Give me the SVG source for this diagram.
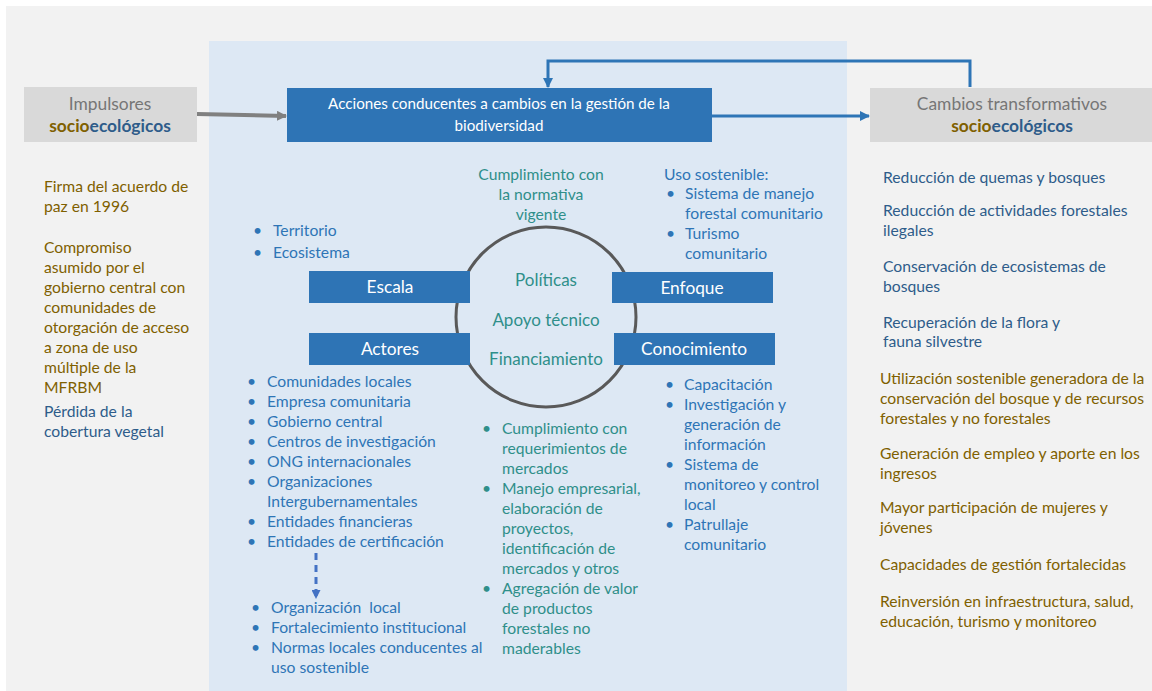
<svg xmlns="http://www.w3.org/2000/svg" width="1152" height="691" viewBox="0 0 1152 691">
<style>
text{font-family:Lato,"Open Sans","Liberation Sans",sans-serif;font-size:15.7px}
.w{fill:#fff;font-size:15.2px}
.wb{fill:#fff;font-size:17.3px}
.g{fill:#7f6000}
.b{fill:#2e5c8a}
.bl{fill:#2e75b6}
.t{fill:#2f8f8a}
.ct{fill:#2f8f8a;font-size:17px}
.h{fill:#767676;font-size:17.4px}
.sb{font-weight:bold;font-size:17.4px}
.box{fill:#2e74b5}
.gbox{fill:#d9d9d9}
.m{text-anchor:middle}
</style>
<defs>
<marker id="ag" markerWidth="10" markerHeight="10" refX="9" refY="5" orient="auto" markerUnits="userSpaceOnUse" viewBox="0 0 10 10"><path d="M0,0L10,5L0,10z" fill="#808080"/></marker>
<marker id="ab" markerWidth="10" markerHeight="10" refX="9" refY="5" orient="auto" markerUnits="userSpaceOnUse" viewBox="0 0 10 10"><path d="M0,0L10,5L0,10z" fill="#2e75b6"/></marker>
<marker id="ad" markerWidth="9" markerHeight="9" refX="8" refY="4.5" orient="auto" markerUnits="userSpaceOnUse" viewBox="0 0 9 9"><path d="M0,0L9,4.5L0,9z" fill="#4472c4"/></marker>
</defs>
<rect x="0" y="0" width="1152" height="691" fill="#fff"/>
<rect x="6" y="6" width="1146" height="685" fill="#f2f2f2"/>
<rect x="209" y="41" width="638" height="650" fill="#dde8f4"/>

<g id="connectors">
<line x1="197" y1="114" x2="286" y2="116" stroke="#808080" stroke-width="4" marker-end="url(#ag)"/>
<line x1="712" y1="116" x2="869" y2="116" stroke="#2e75b6" stroke-width="3" marker-end="url(#ab)"/>
<polyline points="970,87 970,61 548,61 548,87" fill="none" stroke="#2e75b6" stroke-width="3" marker-end="url(#ab)"/>
<line x1="316" y1="553" x2="316" y2="598" stroke="#4472c4" stroke-width="3" stroke-dasharray="7,5" marker-end="url(#ad)"/>
</g>

<g id="impulsores">
<rect class="gbox" x="24" y="87" width="173" height="55"/>
<text class="h m" x="110" y="110">Impulsores</text>
<text class="sb m" x="110" y="132"><tspan class="g">socio</tspan><tspan class="b">ecológicos</tspan></text>
</g>

<g id="acciones">
<rect class="box" x="287" y="88" width="425" height="54"/>
<text class="w m" x="499" y="109">Acciones conducentes a cambios en la gestión de la</text>
<text class="w m" x="499" y="131">biodiversidad</text>
</g>

<g id="cambios">
<rect class="gbox" x="870" y="88" width="282" height="54"/>
<text class="h m" x="1012" y="110">Cambios transformativos</text>
<text class="sb m" x="1012" y="132"><tspan class="g">socio</tspan><tspan class="b">ecológicos</tspan></text>
</g>

<g id="impulsores-list">
<text class="g" x="44" y="192">Firma del acuerdo de</text>
<text class="g" x="44" y="212">paz en 1996</text>
<text class="g" x="44" y="253">Compromiso</text>
<text class="g" x="44" y="273">asumido por el</text>
<text class="g" x="44" y="293">gobierno central con</text>
<text class="g" x="44" y="313">comunidades de</text>
<text class="g" x="44" y="333">otorgación de acceso</text>
<text class="g" x="44" y="353">a zona de uso</text>
<text class="g" x="44" y="373">múltiple de la</text>
<text class="g" x="44" y="393">MFRBM</text>
<text class="b" x="44" y="417">Pérdida de la</text>
<text class="b" x="44" y="437">cobertura vegetal</text>
</g>

<g id="cambios-list">
<text class="b" x="883" y="183">Reducción de quemas y bosques</text>
<text class="b" x="883" y="216">Reducción de actividades forestales</text>
<text class="b" x="883" y="236">ilegales</text>
<text class="b" x="883" y="272">Conservación de ecosistemas de</text>
<text class="b" x="883" y="292">bosques</text>
<text class="b" x="883" y="328">Recuperación de la flora y</text>
<text class="b" x="883" y="347">fauna silvestre</text>
<text class="g" x="880" y="384">Utilización sostenible generadora de la</text>
<text class="g" x="880" y="404">conservación del bosque y de recursos</text>
<text class="g" x="880" y="424">forestales y no forestales</text>
<text class="g" x="880" y="459">Generación de empleo y aporte en los</text>
<text class="g" x="880" y="479">ingresos</text>
<text class="g" x="880" y="513">Mayor participación de mujeres y</text>
<text class="g" x="880" y="533">jóvenes</text>
<text class="g" x="880" y="570">Capacidades de gestión fortalecidas</text>
<text class="g" x="880" y="607">Reinversión en infraestructura, salud,</text>
<text class="g" x="880" y="627">educación, turismo y monitoreo</text>
</g>

<g id="circulo">
<circle cx="546" cy="317" r="90" fill="none" stroke="#595959" stroke-width="3"/>
<text class="ct m" x="546" y="286">Políticas</text>
<text class="ct m" x="546" y="326">Apoyo técnico</text>
<text class="ct m" x="546" y="365">Financiamiento</text>
</g>

<g id="escala">
<rect class="box" x="309" y="271" width="161" height="32"/>
<text class="wb m" x="390" y="293">Escala</text>
</g>
<g id="actores">
<rect class="box" x="309" y="333" width="161" height="32"/>
<text class="wb m" x="390" y="355">Actores</text>
</g>
<g id="enfoque">
<rect class="box" x="612" y="272" width="161" height="31"/>
<text class="wb m" x="692" y="294">Enfoque</text>
</g>
<g id="conocimiento">
<rect class="box" x="614" y="333" width="161" height="32"/>
<text class="wb m" x="694" y="355">Conocimiento</text>
</g>

<g id="normativa">
<text class="t m" x="541" y="180">Cumplimiento con</text>
<text class="t m" x="541" y="200">la normativa</text>
<text class="t m" x="541" y="220">vigente</text>
</g>

<g id="uso-sostenible">
<text class="bl" x="664" y="180">Uso sostenible:</text>
<text class="bl" x="666" y="199">•</text><text class="bl" x="685" y="199">Sistema de manejo</text>
<text class="bl" x="685" y="219">forestal comunitario</text>
<text class="bl" x="666" y="239">•</text><text class="bl" x="685" y="239">Turismo</text>
<text class="bl" x="685" y="259">comunitario</text>
</g>

<g id="escala-list">
<text class="bl" x="253" y="236">•</text><text class="bl" x="273" y="236">Territorio</text>
<text class="bl" x="253" y="258">•</text><text class="bl" x="273" y="258">Ecosistema</text>
</g>

<g id="actores-list">
<text class="bl" x="247" y="387">•</text><text class="bl" x="267" y="387">Comunidades locales</text>
<text class="bl" x="247" y="407">•</text><text class="bl" x="267" y="407">Empresa comunitaria</text>
<text class="bl" x="247" y="427">•</text><text class="bl" x="267" y="427">Gobierno central</text>
<text class="bl" x="247" y="447">•</text><text class="bl" x="267" y="447">Centros de investigación</text>
<text class="bl" x="247" y="467">•</text><text class="bl" x="267" y="467">ONG internacionales</text>
<text class="bl" x="247" y="487">•</text><text class="bl" x="267" y="487">Organizaciones</text>
<text class="bl" x="267" y="507">Intergubernamentales</text>
<text class="bl" x="247" y="527">•</text><text class="bl" x="267" y="527">Entidades financieras</text>
<text class="bl" x="247" y="547">•</text><text class="bl" x="267" y="547">Entidades de certificación</text>
</g>

<g id="local-list">
<text class="bl" x="251" y="613">•</text><text class="bl" x="271" y="613" style="white-space:pre">Organización  local</text>
<text class="bl" x="251" y="633">•</text><text class="bl" x="271" y="633">Fortalecimiento institucional</text>
<text class="bl" x="251" y="653">•</text><text class="bl" x="271" y="653">Normas locales conducentes al</text>
<text class="bl" x="271" y="673">uso sostenible</text>
</g>

<g id="mercados-list">
<text class="t" x="482" y="434">•</text><text class="t" x="502" y="434">Cumplimiento con</text>
<text class="t" x="502" y="454">requerimientos de</text>
<text class="t" x="502" y="474">mercados</text>
<text class="t" x="482" y="494">•</text><text class="t" x="502" y="494">Manejo empresarial,</text>
<text class="t" x="502" y="514">elaboración de</text>
<text class="t" x="502" y="534">proyectos,</text>
<text class="t" x="502" y="554">identificación de</text>
<text class="t" x="502" y="574">mercados y otros</text>
<text class="t" x="482" y="594">•</text><text class="t" x="502" y="594">Agregación de valor</text>
<text class="t" x="502" y="614">de productos</text>
<text class="t" x="502" y="634">forestales no</text>
<text class="t" x="502" y="654">maderables</text>
</g>

<g id="conocimiento-list">
<text class="bl" x="665" y="390">•</text><text class="bl" x="684" y="390">Capacitación</text>
<text class="bl" x="665" y="410">•</text><text class="bl" x="684" y="410">Investigación y</text>
<text class="bl" x="684" y="430">generación de</text>
<text class="bl" x="684" y="450">información</text>
<text class="bl" x="665" y="470">•</text><text class="bl" x="684" y="470">Sistema de</text>
<text class="bl" x="684" y="490">monitoreo y control</text>
<text class="bl" x="684" y="510">local</text>
<text class="bl" x="665" y="530">•</text><text class="bl" x="684" y="530">Patrullaje</text>
<text class="bl" x="684" y="550">comunitario</text>
</g>
</svg>
